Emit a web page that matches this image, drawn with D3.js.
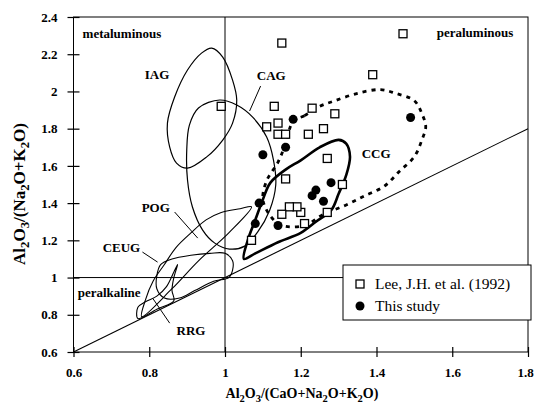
<!DOCTYPE html>
<html lang="en">
<head>
<meta charset="utf-8">
<title>A/NK vs A/CNK</title>
<script src="https://d3js.org/d3.v7.min.js"></script>
<style>
  body { margin: 0; background: #fff; }
  svg text { font-family: "Liberation Serif", "DejaVu Serif", serif; fill: #000; }
  .tick text { font-size: 13px; font-weight: bold; }
  .lbl { font-size: 13px; font-weight: bold; }
</style>
</head>
<body>
<div id="chart"></div>
<script>
// ticks
var xTicks = [0.6, 0.8, 1, 1.2, 1.4, 1.6, 1.8];
var yTicks = [0.6, 0.8, 1, 1.2, 1.4, 1.6, 1.8, 2, 2.2, 2.4];

// Lee, J.H. et al. (1992)  [A/CNK, A/NK]
var leeData = [
  [0.99, 1.92], [1.15, 2.26], [1.47, 2.31], [1.39, 2.09], [1.13, 1.92],
  [1.14, 1.83], [1.11, 1.81], [1.14, 1.77], [1.16, 1.77], [1.23, 1.91],
  [1.29, 1.88], [1.22, 1.77], [1.26, 1.80], [1.27, 1.64], [1.16, 1.53],
  [1.31, 1.50], [1.27, 1.35], [1.21, 1.29], [1.20, 1.35], [1.19, 1.38],
  [1.17, 1.38], [1.15, 1.34], [1.07, 1.20]
];

// This study
var studyData = [
  [1.18, 1.85], [1.16, 1.70], [1.10, 1.66], [1.49, 1.86], [1.28, 1.51],
  [1.24, 1.47], [1.23, 1.44], [1.26, 1.41], [1.09, 1.40], [1.08, 1.29],
  [1.14, 1.28]
];

// field outlines
var iagField = [[0.965,2.233],[0.994,2.185],[1.020,2.061],[1.031,1.954],[1.020,1.830],[0.994,1.739],
  [0.951,1.647],[0.901,1.588],[0.872,1.615],[0.854,1.701],[0.848,1.830],[0.867,1.970],[0.901,2.115],[0.938,2.206]];
var cagField = [[0.986,1.954],[1.031,1.927],[1.073,1.862],[1.110,1.755],[1.128,1.631],[1.134,1.497],
  [1.118,1.362],[1.086,1.244],[1.052,1.169],[1.012,1.153],[0.973,1.185],[0.941,1.255],[0.914,1.379],
  [0.901,1.524],[0.899,1.685],[0.906,1.819],[0.930,1.911]];
var ccgField = [[1.05,1.10],[1.06,1.20],[1.08,1.31],[1.10,1.42],[1.12,1.51],[1.16,1.58],[1.20,1.63],
  [1.25,1.70],[1.30,1.74],[1.32,1.72],[1.33,1.65],[1.32,1.55],[1.30,1.45],[1.28,1.36],[1.24,1.30],
  [1.20,1.24],[1.14,1.19],[1.08,1.13]];
var ccgDashed = [[1.18,1.84],[1.21,1.87],[1.25,1.92],[1.29,1.95],[1.35,1.99],[1.41,2.01],[1.45,1.99],
  [1.50,1.95],[1.52,1.88],[1.53,1.81],[1.52,1.74],[1.50,1.65],[1.46,1.57],[1.42,1.49],[1.37,1.44],
  [1.32,1.39],[1.26,1.34],[1.21,1.28],[1.15,1.28],[1.12,1.33],[1.10,1.42],[1.11,1.52],[1.14,1.62],[1.16,1.72]];
var pogField = [[0.78,0.79],[0.86,0.94],[0.93,1.09],[1.01,1.24],[1.07,1.38],[1.04,1.37],[0.99,1.35],
  [0.95,1.31],[0.91,1.24],[0.87,1.16],[0.84,1.07],[0.81,0.98],[0.79,0.88]];
var ceugField = [[0.82,1.01],[0.83,1.07],[0.86,1.10],[0.91,1.12],[0.96,1.13],[1.00,1.13],[1.02,1.09],
  [1.02,1.04],[1.01,1.00],[0.97,0.98],[0.92,0.93],[0.88,0.89],[0.84,0.89],[0.82,0.94]];
var rrgField = [[0.77,0.78],[0.77,0.84],[0.79,0.87],[0.82,0.90],[0.845,0.95],[0.865,1.03],[0.875,1.07],
  [0.865,1.00],[0.86,0.93],[0.865,0.875],[0.82,0.83]];

// labels: text, x, y (data units, baseline start)
var fieldLabels = [
  ["metaluminous", 0.624, 2.287], ["peraluminous", 1.559, 2.292], ["peralkaline", 0.611, 0.895],
  ["IAG", 0.788, 2.067], ["CAG", 1.084, 2.061], ["CCG", 1.361, 1.642], ["POG", 0.780, 1.352],
  ["CEUG", 0.677, 1.137], ["RRG", 0.872, 0.690]
];
var leaders = [
  [[1.094, 2.029], [1.065, 1.895]],
  [[0.867, 1.352], [0.928, 1.212]],
  [[0.782, 1.137], [0.822, 1.083]],
  [[0.854, 0.755], [0.809, 0.889]]
];

var W = 535, H = 407;
var svg = d3.select("#chart").append("svg").attr("width", W).attr("height", H);

var x = d3.scaleLinear().domain([0.6, 1.8]).range([73.5, 528]);
var y = d3.scaleLinear().domain([0.6, 2.4]).range([352, 17]);

var fmt = function (d) { return String(+d.toFixed(1)); };

// frame
svg.append("rect").attr("x", x(0.6)).attr("y", y(2.4))
  .attr("width", x(1.8) - x(0.6)).attr("height", y(0.6) - y(2.4))
  .attr("fill", "none").attr("stroke", "#000").attr("stroke-width", 1);

// reference lines
svg.append("line").attr("x1", x(0.6)).attr("x2", x(1.8)).attr("y1", y(1)).attr("y2", y(1))
  .attr("stroke", "#000").attr("stroke-width", 1);
svg.append("line").attr("x1", x(1)).attr("x2", x(1)).attr("y1", y(0.6)).attr("y2", y(2.4))
  .attr("stroke", "#000").attr("stroke-width", 1);
svg.append("line").attr("x1", x(0.6)).attr("y1", y(0.6)).attr("x2", x(1.8)).attr("y2", y(1.8))
  .attr("stroke", "#000").attr("stroke-width", 1.1);

// axes
var gx = svg.append("g").attr("transform", "translate(0," + y(0.6) + ")")
  .call(d3.axisBottom(x).tickValues(xTicks).tickFormat(fmt).tickSize(5).tickPadding(11));
gx.selectAll(".tick line").attr("y1", -5);
gx.selectAll(".tick text").filter(function (d) { return d === 1.8; }).attr("dx", -3);
var gy = svg.append("g").attr("transform", "translate(" + x(0.6) + ",0)")
  .call(d3.axisLeft(y).tickValues(yTicks).tickFormat(fmt).tickSize(6).tickPadding(10));
gy.selectAll(".tick line").attr("x1", 6);
svg.selectAll(".domain").remove();
svg.selectAll(".tick line").attr("stroke", "#000").attr("stroke-width", 1.2);

// fields
var pathOf = d3.line().x(function (d) { return x(d[0]); }).y(function (d) { return y(d[1]); });
var loopPath = d3.line().x(function (d) { return x(d[0]); }).y(function (d) { return y(d[1]); })
  .curve(d3.curveCatmullRomClosed.alpha(0.5));
function field(pts, w, dash) {
  svg.append("path").attr("d", loopPath(pts)).attr("fill", "none")
    .attr("stroke", "#000").attr("stroke-width", w).attr("stroke-dasharray", dash || null)
    .attr("stroke-linejoin", "round");
}
field(iagField, 1.2);
field(cagField, 1.2);
field(pogField, 1.1);
field(ceugField, 1.1);
field(rrgField, 1.1);
field(ccgDashed, 2.8, "4,5");
field(ccgField, 2.6);

// leaders
leaders.forEach(function (l) {
  svg.append("path").attr("d", pathOf(l)).attr("stroke", "#000").attr("stroke-width", 1).attr("fill", "none");
});

// labels
svg.selectAll(".lbl").data(fieldLabels).enter().append("text").attr("class", "lbl")
  .attr("x", function (d) { return x(d[1]); }).attr("y", function (d) { return y(d[2]); })
  .text(function (d) { return d[0]; });

// points
svg.selectAll(".lee").data(leeData).enter().append("rect").attr("class", "lee")
  .attr("x", function (d) { return x(d[0]) - 4; }).attr("y", function (d) { return y(d[1]) - 4; })
  .attr("width", 8).attr("height", 8)
  .attr("fill", "#fff").attr("stroke", "#000").attr("stroke-width", 1.3);
svg.selectAll(".study").data(studyData).enter().append("circle").attr("class", "study")
  .attr("cx", function (d) { return x(d[0]); }).attr("cy", function (d) { return y(d[1]); })
  .attr("r", 4.5).attr("fill", "#000");

// legend
var lg = svg.append("g");
lg.append("rect").attr("x", 343).attr("y", 265).attr("width", 188).attr("height", 55)
  .attr("fill", "#fff").attr("stroke", "#000").attr("stroke-width", 1);
lg.append("rect").attr("x", 356).attr("y", 280).attr("width", 8).attr("height", 8)
  .attr("fill", "#fff").attr("stroke", "#000").attr("stroke-width", 1.3);
lg.append("circle").attr("cx", 360).attr("cy", 306).attr("r", 4.5).attr("fill", "#000");
lg.append("text").attr("x", 375).attr("y", 289).style("font-size", "15.5px").text("Lee, J.H. et al. (1992)");
lg.append("text").attr("x", 375).attr("y", 311).style("font-size", "15.5px").text("This study");

// axis titles with subscripts
function formula(t, parts, size) {
  var down = false, sh = size * 0.25;
  parts.forEach(function (p) {
    var s = t.append("tspan").text(p[0]);
    if (p[1]) { s.attr("dy", sh).style("font-size", (size * 0.75) + "px"); down = true; }
    else if (down) { s.attr("dy", -sh); down = false; }
  });
}
var xt = svg.append("text").attr("x", 302).attr("y", 398).attr("text-anchor", "middle")
  .style("font-size", "14px").style("font-weight", "bold");
formula(xt, [["Al"], ["2", 1], ["O"], ["3", 1], ["/(CaO+Na"], ["2", 1], ["O+K"], ["2", 1], ["O)"]], 14);
var yt = svg.append("text").attr("transform", "translate(25,194) rotate(-90)").attr("text-anchor", "middle")
  .style("font-size", "17px").style("font-weight", "bold");
formula(yt, [["Al"], ["2", 1], ["O"], ["3", 1], ["/(Na"], ["2", 1], ["O+K"], ["2", 1], ["O)"]], 17);
</script>
</body>
</html>
